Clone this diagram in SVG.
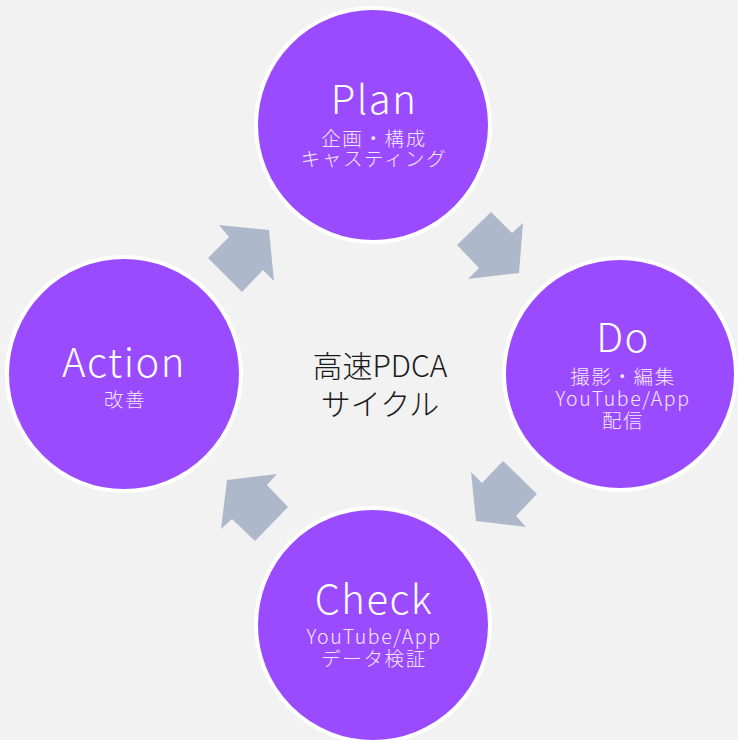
<svg xmlns="http://www.w3.org/2000/svg" width="738" height="740" viewBox="0 0 738 740">
<style>
.bg{fill:#F2F2F2}
.node circle{fill:#9B4BFF;stroke:#FFFFFF;stroke-width:4}
.title{font-family:"Noto Sans CJK JP","Noto Sans",sans-serif;font-weight:300;font-size:40px;fill:#FFFFFF;text-anchor:middle;letter-spacing:1.5px}
.sub{font-family:"Noto Sans CJK JP","Noto Sans",sans-serif;font-weight:300;font-size:19.5px;fill:#F3E8FF;text-anchor:middle;letter-spacing:1.6px}
.center{font-family:"Noto Sans CJK JP","Noto Sans",sans-serif;font-weight:300;font-size:30px;fill:#1A1A1A;text-anchor:middle}
.arrow{fill:#ADB9CA}
</style>
<rect class="bg" x="0" y="0" width="738" height="740"/>
<g id="connectors">
<polygon class="arrow" points="219,225 269,230 274,281 263,270 242,292 208,258 229,237"/>
<polygon class="arrow" points="491,212 512,233 523,223 519,273 468,279 479,268 457,245"/>
<polygon class="arrow" points="503,461 537,494 516,516 526,527 476,521 471,472 482,483"/>
<polygon class="arrow" points="277,474 267,485 288,507 255,541 232,519 221,529 227,480"/>
</g>
<g id="plan" class="node">
<circle cx="373" cy="125" r="117"/>
<text class="title" x="374" y="114">Plan</text>
<text class="sub" x="374" y="146">企画・構成</text>
<text class="sub" x="374" y="166">キャスティング</text>
</g>
<g id="do" class="node">
<circle cx="620" cy="374" r="116"/>
<text class="title" x="623" y="352">Do</text>
<text class="sub" x="623" y="384">撮影・編集</text>
<text class="sub" x="623" y="406">YouTube/App</text>
<text class="sub" x="623" y="428">配信</text>
</g>
<g id="check" class="node">
<circle cx="373" cy="625" r="117"/>
<text class="title" x="374" y="614">Check</text>
<text class="sub" x="374" y="644">YouTube/App</text>
<text class="sub" x="374" y="666">データ検証</text>
</g>
<g id="action" class="node">
<circle cx="124" cy="374" r="117"/>
<text class="title" x="124" y="377">Action</text>
<text class="sub" x="125" y="407">改善</text>
</g>
<g id="center">
<text class="center" x="380" y="377">高速PDCA</text>
<text class="center" x="380" y="415">サイクル</text>
</g>
</svg>
